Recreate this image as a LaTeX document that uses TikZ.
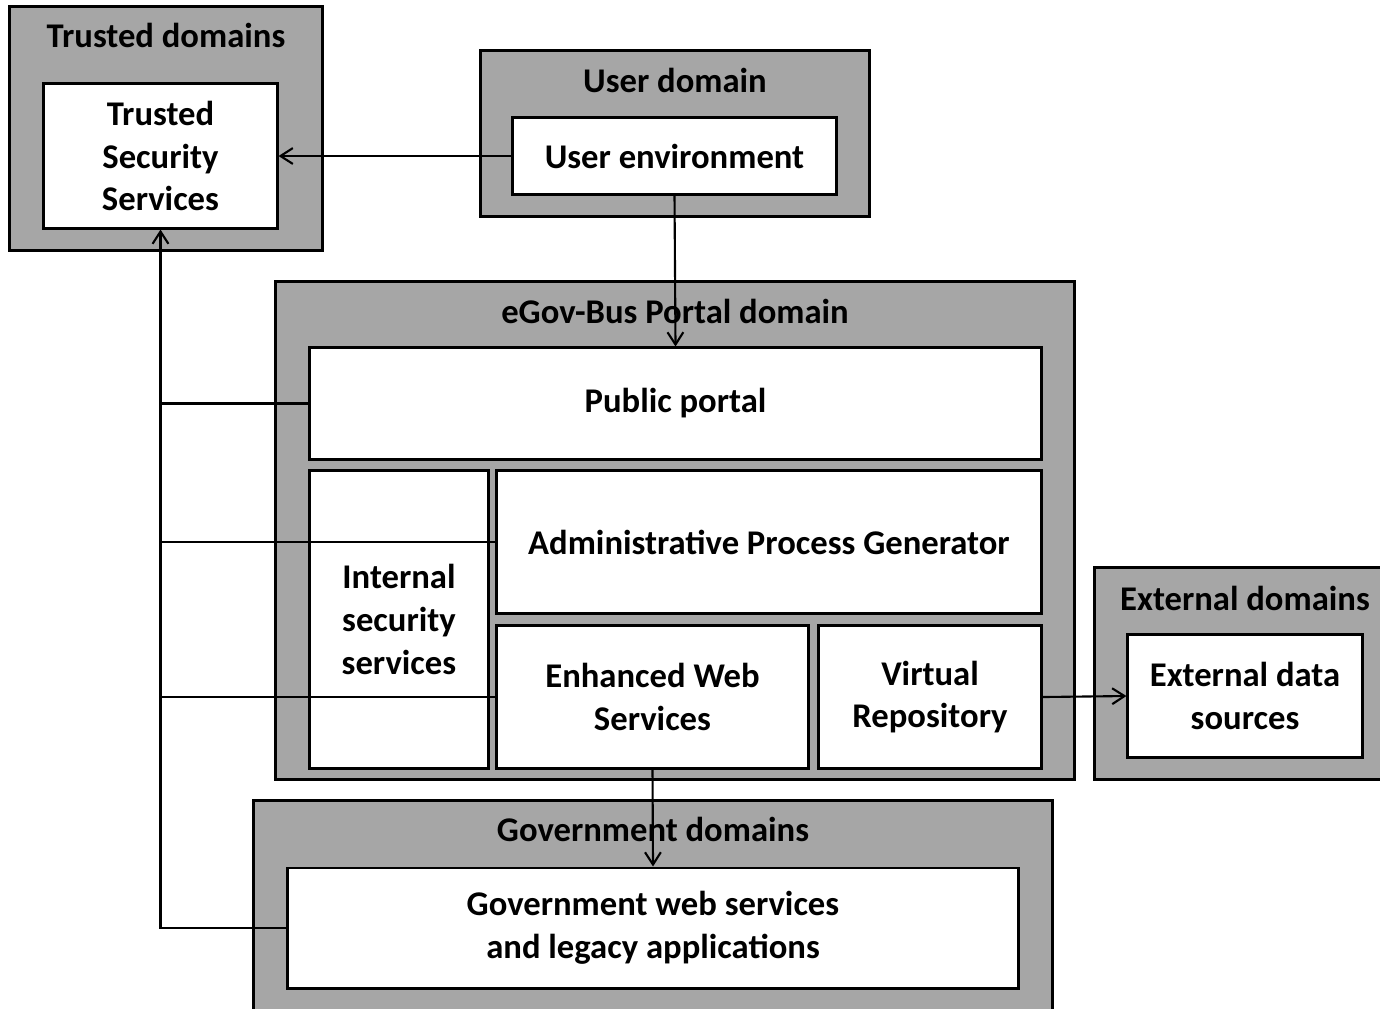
\documentclass[tikz,border=0pt]{standalone}
\usepackage{fontspec}
\setmainfont{Carlito}
\usetikzlibrary{arrows.meta}

\begin{document}
\begin{tikzpicture}[x=0.01cm,y=-0.01cm,
  font=\bfseries\fontsize{9.85}{12.2}\selectfont,
  dombox/.style={draw,line width=0.85pt,fill=gray!70},
  inbox/.style={draw,line width=0.85pt,fill=white,align=center,inner sep=0pt},
  domtitle/.style={inner sep=0pt},
  link/.style={line width=0.6pt,-{Straight Barb[length=3.5pt,width=4.5pt]}},
  wire/.style={line width=0.6pt}]
  \useasboundingbox (0,0) rectangle (1380,1008);
  % domains
  \node[dombox,minimum width=3.12cm,minimum height=2.43cm] (td) at (166,128.5) {};
  \node[dombox,minimum width=3.88cm,minimum height=1.65cm] (ud) at (675,133.5) {};
  \node[dombox,minimum width=7.98cm,minimum height=4.97cm] (pd) at (675,530.5) {};
  \node[dombox,minimum width=2.90cm,minimum height=2.11cm] (xd) at (1240,673.5) {};
  \node[dombox,minimum width=7.98cm,minimum height=2.18cm] (gd) at (653,910) {};
  \node[domtitle] (tdt) at (166,35) {Trusted domains};
  \node[domtitle] (udt) at (675,80) {User domain};
  \node[domtitle] (pdt) at (675,311) {eGov-Bus Portal domain};
  \node[domtitle] (xdt) at (1245,598) {External domains};
  \node[domtitle] (gdt) at (653,829) {Government domains};
  % inner boxes
  \node[inbox,minimum width=2.33cm,minimum height=1.44cm] (tss) at (160.5,156) {Trusted\\Security\\Services};
  \node[inbox,minimum width=3.23cm,minimum height=0.76cm] (ue) at (674.5,156) {User environment};
  \node[inbox,minimum width=7.31cm,minimum height=1.11cm] (pp) at (675.5,403.5) {Public portal};
  \node[inbox,minimum width=1.78cm,minimum height=2.97cm] (iss) at (399,619.5) {Internal\\security\\services};
  \node[inbox,minimum width=5.44cm,minimum height=1.42cm] (apg) at (769,542) {Administrative Process Generator};
  \node[inbox,minimum width=3.11cm,minimum height=1.42cm] (ews) at (652.5,697) {Enhanced Web\\Services};
  \node[inbox,minimum width=2.22cm,minimum height=1.42cm] (vr) at (930,697) {Virtual\\Repository};
  \node[inbox,minimum width=2.34cm,minimum height=1.22cm] (eds) at (1245,696) {External data\\sources};
  \node[inbox,minimum width=7.30cm,minimum height=1.20cm] (gws) at (653,928) {Government web services\\and legacy applications};
  % connectors
  \draw[link] (ue.west) -- (tss.east);
  \draw[link] (ue.south) -- (pp.north);
  \draw[link] (gws.west) -| (tss.south);
  \draw[wire] (pp.west) -- (pp.west -| tss.south);
  \draw[wire] (apg.west) -- (apg.west -| tss.south);
  \draw[wire] (ews.west) -- (ews.west -| tss.south);
  \draw[link] (ews.south) -- (gws.north);
  \draw[link] (vr.east) -- (eds.west);
\end{tikzpicture}
\end{document}
